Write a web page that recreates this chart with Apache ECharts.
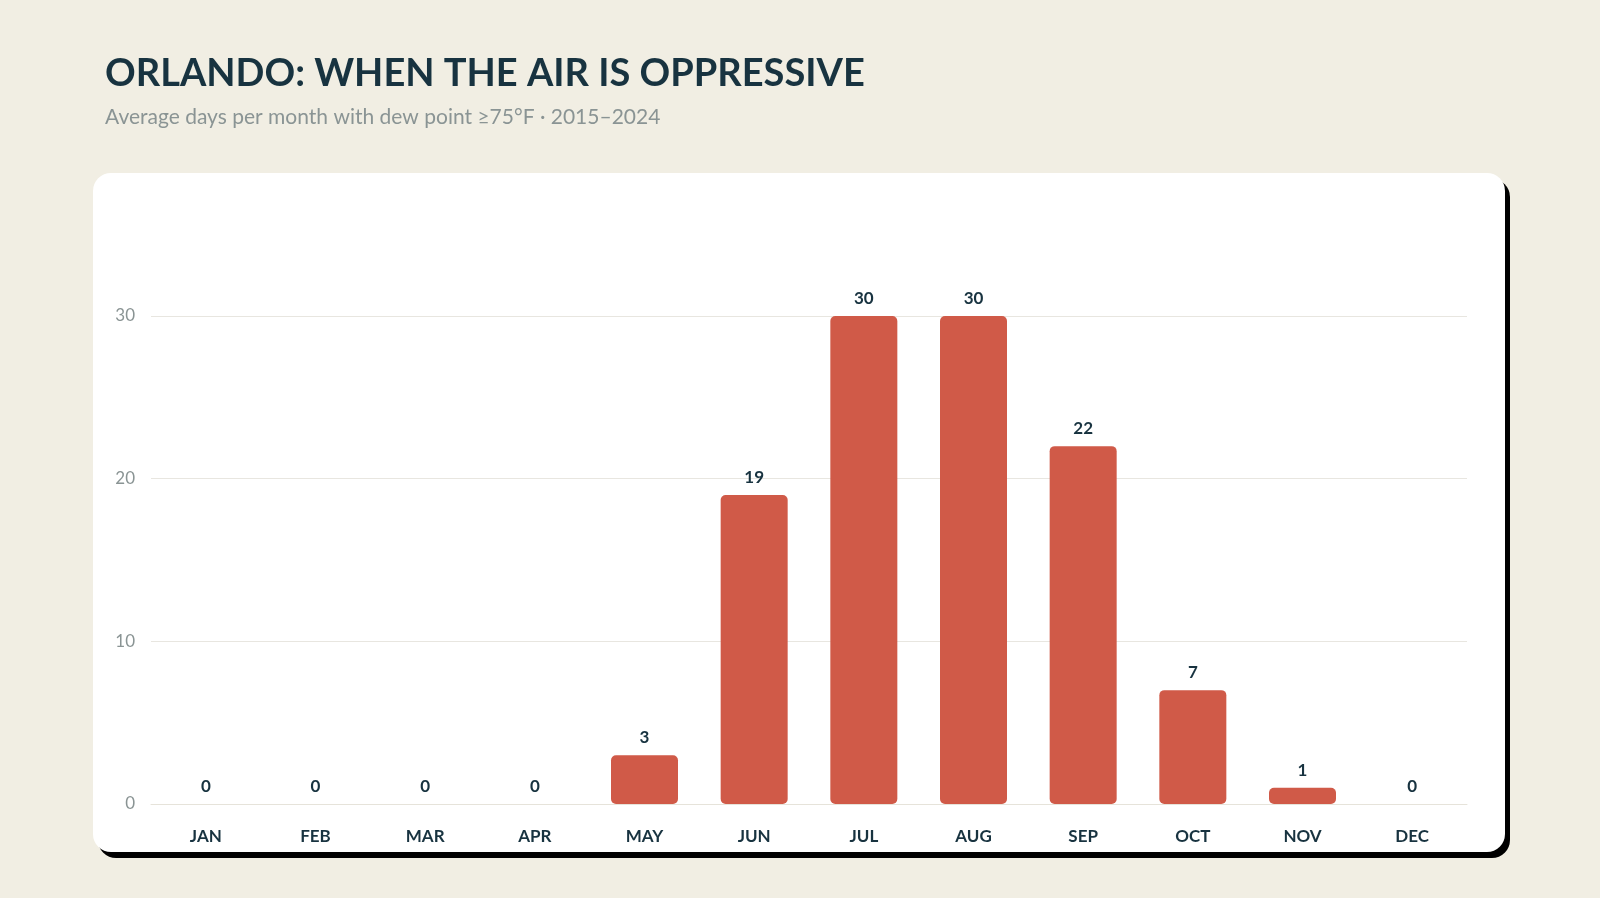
<!DOCTYPE html>
<html><head><meta charset="utf-8">
<script src="https://cdn.jsdelivr.net/npm/echarts@6/dist/echarts.min.js"></script>
<style>
html,body{margin:0;padding:0;background:#f1eee3;width:1600px;height:898px;overflow:hidden}
#card{position:absolute;left:93px;top:173px;width:1412px;height:679px;background:#fff;border-radius:18px;box-shadow:5px 6px 0 #000}
#c{position:absolute;left:0;top:0;width:1600px;height:898px}
</style></head><body>
<div id="card"></div><div id="c"></div>
<script>
const months=['JAN','FEB','MAR','APR','MAY','JUN','JUL','AUG','SEP','OCT','NOV','DEC'];
const days=[0,0,0,0,3,19,30,30,22,7,1,0];
const yTicks=[0,10,20,30];
const ch=echarts.init(document.getElementById('c'));
ch.setOption({
 backgroundColor:'transparent',
 title:{text:'ORLANDO: WHEN THE AIR IS OPPRESSIVE',subtext:'Average days per month with dew point ≥75°F · 2015–2024',left:100,top:50,itemGap:14,
  textStyle:{fontFamily:'Lato',fontWeight:'bold',fontSize:38,color:'#183340'},
  subtextStyle:{fontFamily:'Lato',fontSize:21,color:'#8a9494'}},
 grid:{left:151,right:133,top:316,bottom:94},
 xAxis:{type:'category',data:months,axisTick:{show:false},axisLine:{lineStyle:{color:'#e6e3da'}},
  axisLabel:{margin:24,fontFamily:'Lato',fontWeight:'bold',fontSize:17,color:'#183340'}},
 yAxis:{type:'value',min:0,max:30,interval:10,axisLabel:{fontFamily:'Lato',fontSize:17,color:'#8a9494',margin:16},
  splitLine:{lineStyle:{color:'#e8e6e0'}}},
 series:[{type:'bar',data:days,barWidth:67,itemStyle:{color:'#d05a48',borderRadius:5},
  label:{show:true,position:'top',distance:9,fontFamily:'Lato',fontWeight:'bold',fontSize:17,color:'#183340'}}]
});
</script></body></html>
